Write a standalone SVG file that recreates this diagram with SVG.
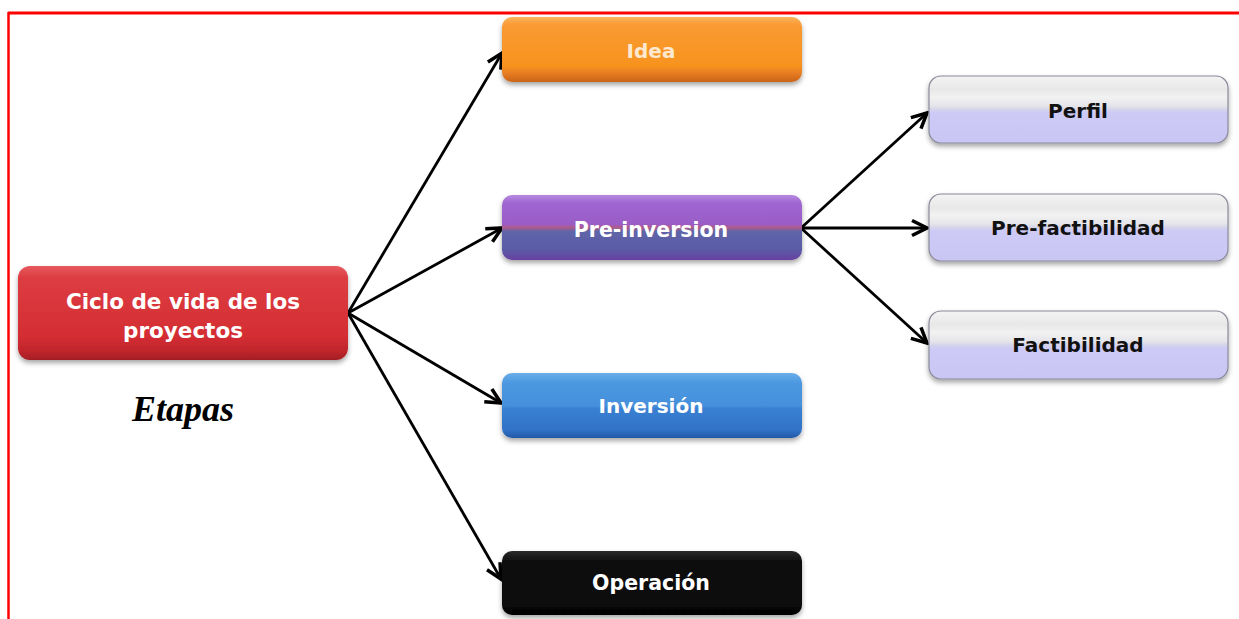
<svg xmlns="http://www.w3.org/2000/svg" width="1239" height="619" viewBox="0 0 1239 619">
<style>
.conn{fill:none;stroke:#000;stroke-width:2.8;marker-end:url(#arr)}
.wt{font-family:"DejaVu Sans",sans-serif;font-weight:bold;fill:#fff;text-anchor:middle}
.bt{font-family:"DejaVu Sans",sans-serif;font-weight:bold;fill:#111;text-anchor:middle;font-size:20px}
.lav{fill:url(#gLav);stroke:#8a8a9a;stroke-width:1.2}
</style>
<defs>
<marker id="arr" markerUnits="userSpaceOnUse" markerWidth="20" markerHeight="20" viewBox="-14 -8 16 16" refX="0" refY="0" orient="auto">
<path d="M-12,-6 L0,0 L-12,6" fill="none" stroke="#000" stroke-width="2.8" stroke-linejoin="miter"/>
</marker>
<filter id="sh" x="-10%" y="-20%" width="120%" height="150%">
<feDropShadow dx="0" dy="3" stdDeviation="2.5" flood-color="#000" flood-opacity="0.35"/>
</filter>
<linearGradient id="gRed" x1="0" y1="0" x2="0" y2="1">
<stop offset="0" stop-color="#e65a5e"/><stop offset="0.12" stop-color="#dd3d42"/><stop offset="0.75" stop-color="#d42d33"/><stop offset="0.9" stop-color="#c1262c"/><stop offset="1" stop-color="#a31e24"/>
</linearGradient>
<linearGradient id="gOr" x1="0" y1="0" x2="0" y2="1">
<stop offset="0" stop-color="#fbb45e"/><stop offset="0.12" stop-color="#f99a32"/><stop offset="0.75" stop-color="#f7931e"/><stop offset="0.85" stop-color="#ea7f22"/><stop offset="1" stop-color="#c96418"/>
</linearGradient>
<linearGradient id="gPur" x1="0" y1="0" x2="0" y2="1">
<stop offset="0" stop-color="#b58adf"/><stop offset="0.12" stop-color="#a066d2"/><stop offset="0.45" stop-color="#9a5cc6"/><stop offset="0.5" stop-color="#b05a8a"/><stop offset="0.56" stop-color="#5f65a8"/><stop offset="0.85" stop-color="#5a5aa6"/><stop offset="1" stop-color="#6a3fa0"/>
</linearGradient>
<linearGradient id="gBlue" x1="0" y1="0" x2="0" y2="1">
<stop offset="0" stop-color="#6aaeea"/><stop offset="0.15" stop-color="#4c98e0"/><stop offset="0.5" stop-color="#4690dc"/><stop offset="0.55" stop-color="#3a80d2"/><stop offset="0.88" stop-color="#2f72c6"/><stop offset="1" stop-color="#2458a8"/>
</linearGradient>
<linearGradient id="gBlk" x1="0" y1="0" x2="0" y2="1">
<stop offset="0" stop-color="#2a2a2a"/><stop offset="0.15" stop-color="#111"/><stop offset="1" stop-color="#050505"/>
</linearGradient>
<linearGradient id="gLav" x1="0" y1="0" x2="0" y2="1">
<stop offset="0" stop-color="#f4f4f4"/><stop offset="0.2" stop-color="#e8e8e8"/><stop offset="0.32" stop-color="#f2f2f2"/><stop offset="0.45" stop-color="#e4e4ea"/><stop offset="0.5" stop-color="#d6d4ea"/><stop offset="0.55" stop-color="#cdcaf6"/><stop offset="1" stop-color="#c9c6f4"/>
</linearGradient>
</defs>
<rect width="1239" height="619" fill="#fff"/>
<g id="border">
<line x1="8" y1="13" x2="1239" y2="13" stroke="#f00" stroke-width="3"/>
<line x1="8.5" y1="12" x2="8.5" y2="619" stroke="#f00" stroke-width="2.5"/>
</g>
<g id="connectors">
<line class="conn" x1="348" y1="313" x2="502" y2="53"/>
<line class="conn" x1="348" y1="313" x2="502" y2="228"/>
<line class="conn" x1="348" y1="313" x2="501" y2="403"/>
<line class="conn" x1="348" y1="313" x2="501" y2="579"/>
<line class="conn" x1="801" y1="228" x2="927" y2="113"/>
<line class="conn" x1="801" y1="228" x2="927" y2="228"/>
<line class="conn" x1="801" y1="228" x2="927" y2="343"/>
</g>
<g id="ciclo">
<rect x="18" y="266" width="330" height="94" rx="12" fill="url(#gRed)" filter="url(#sh)"/>
<text class="wt" x="183" y="309" font-size="21.5">Ciclo de vida de los</text>
<text class="wt" x="183" y="338" font-size="21.5">proyectos</text>
</g>
<g id="etapas">
<text x="183" y="421" font-family="Liberation Serif, serif" font-weight="bold" font-style="italic" font-size="36" text-anchor="middle" fill="#000">Etapas</text>
</g>
<g id="idea">
<rect x="502" y="17" width="300" height="65" rx="10" fill="url(#gOr)" filter="url(#sh)"/>
<text class="wt" x="651" y="58" font-size="20" style="fill:#fde8d0">Idea</text>
</g>
<g id="preinversion">
<rect x="502" y="195" width="300" height="65" rx="10" fill="url(#gPur)" filter="url(#sh)"/>
<text class="wt" x="651" y="237" font-size="20.5">Pre-inversion</text>
</g>
<g id="inversion">
<rect x="502" y="373" width="300" height="65" rx="10" fill="url(#gBlue)" filter="url(#sh)"/>
<text class="wt" x="651" y="413" font-size="20">Inversión</text>
</g>
<g id="operacion">
<rect x="502" y="551" width="300" height="64" rx="10" fill="url(#gBlk)" filter="url(#sh)"/>
<text class="wt" x="651" y="590" font-size="20.5">Operación</text>
</g>
<g id="perfil">
<rect class="lav" x="929" y="76" width="299" height="67" rx="12" filter="url(#sh)"/>
<text class="bt" x="1078" y="118">Perfil</text>
</g>
<g id="prefactibilidad">
<rect class="lav" x="929" y="194" width="299" height="67" rx="12" filter="url(#sh)"/>
<text class="bt" x="1078" y="235">Pre-factibilidad</text>
</g>
<g id="factibilidad">
<rect class="lav" x="929" y="311" width="299" height="68" rx="12" filter="url(#sh)"/>
<text class="bt" x="1078" y="352">Factibilidad</text>
</g>
</svg>
